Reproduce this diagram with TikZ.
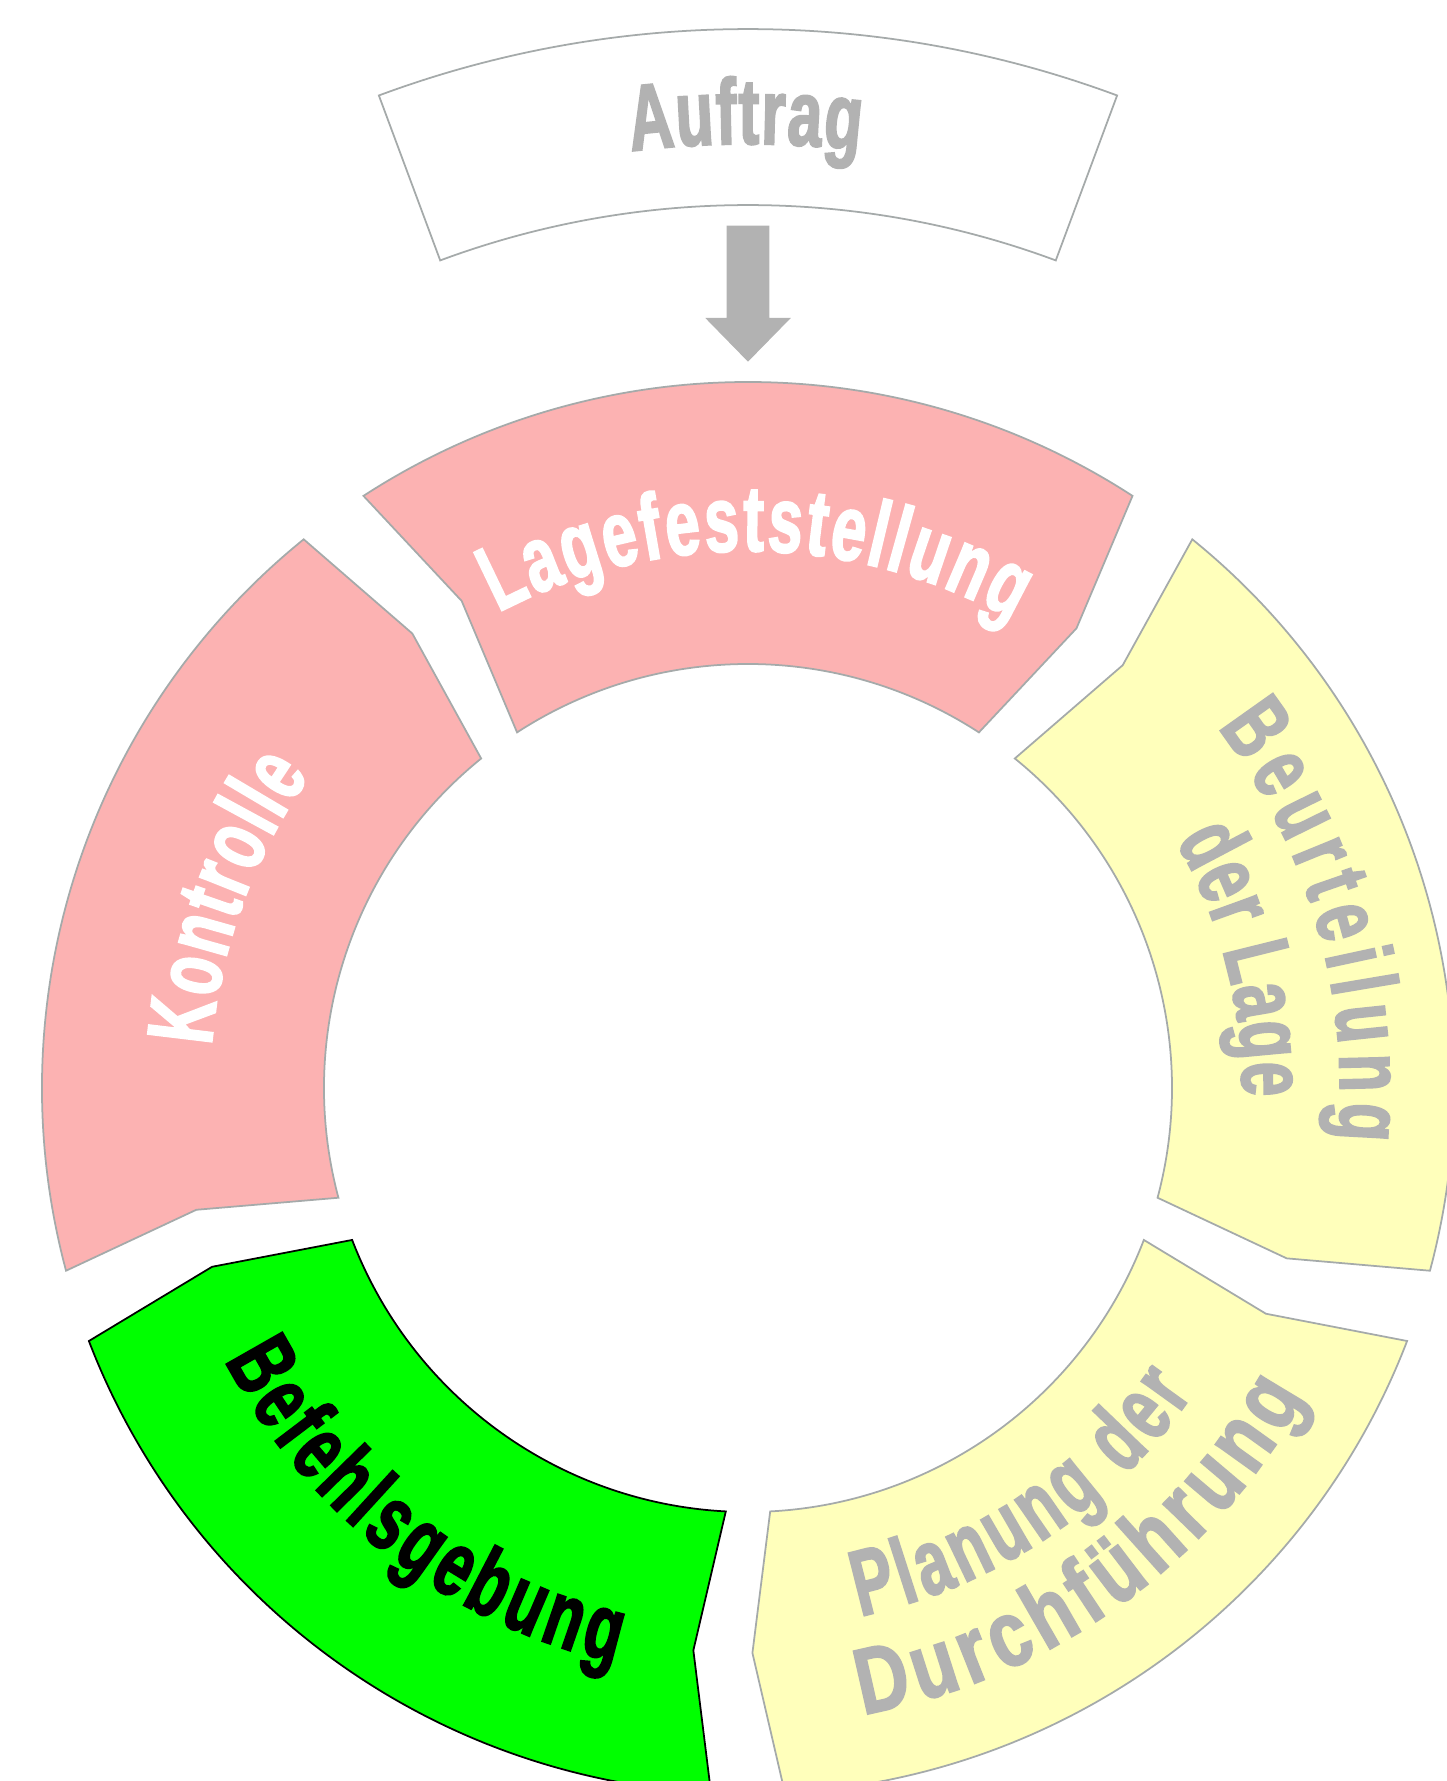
\documentclass[tikz,border=0pt]{standalone}
\usepackage{fontspec}
\usepackage{tikz}
\usetikzlibrary{decorations.text}
\newfontfamily\wordartfam[FakeStretch=0.66,FakeBold=2]{Liberation Sans}
\newfontfamily\wordartwide[FakeStretch=0.78,FakeBold=2]{Liberation Sans}
\newcommand{\wafont}{\wordartfam\bfseries\fontsize{26.6pt}{30pt}\selectfont}
\newcommand{\wawide}{\wordartwide\bfseries\fontsize{26.6pt}{30pt}\selectfont}
\definecolor{partpink}{RGB}{252,178,178}
\definecolor{partyellow}{RGB}{255,255,187}
\definecolor{partgreen}{RGB}{0,255,0}
\definecolor{textgray}{RGB}{178,178,178}
\definecolor{edgegray}{RGB}{165,170,170}
\tikzstyle{pinkpart} = [fill=partpink, draw=edgegray, line width=0.5pt]
\tikzstyle{yellowpart} = [fill=partyellow, draw=edgegray, line width=0.5pt]
\tikzstyle{greenpart} = [fill=partgreen, draw=black, line width=0.5pt]
\tikzstyle{auftragbox} = [fill=white, draw=edgegray, line width=0.5pt]
\tikzstyle{pfeil} = [fill=textgray]
\tikzstyle{wordart} = [decorate, decoration={text along path, text align=fit to path}]
\newcommand{\ringpart}[2]{\draw[#2] (#1+33:7.06) arc[start angle=#1+33, end angle=#1-33, radius=7.06] -- (#1-35.55:5.65) -- (#1-33:4.24) arc[start angle=#1-33, end angle=#1+33, radius=4.24] -- (#1+30.45:5.65) -- cycle;}

\begin{document}
\begin{tikzpicture}
\useasboundingbox (-7.48,-6.93) rectangle (6.99,10.88);

\draw[auftragbox] (69.6:10.59) arc[start angle=69.6, end angle=110.4, radius=10.59] -- (110.4:8.83) arc[start angle=110.4, end angle=69.6, radius=8.83] -- cycle;
\fill[pfeil] (-0.213,8.623) -- (0.215,8.623) -- (0.215,7.70) -- (0.428,7.70) -- (0,7.263) -- (-0.427,7.70) -- (-0.213,7.70) -- cycle;

\ringpart{90}{pinkpart}
\ringpart{18}{yellowpart}
\ringpart{-54}{yellowpart}
\ringpart{-126}{greenpart}
\ringpart{162}{pinkpart}

\path[wordart, decoration={text={|\wafont\color{textgray}|Auftrag}}] (97.1:9.44) arc[start angle=97.1, end angle=83.2, radius=9.44];
\path[wordart, decoration={text={|\wafont\color{white}|Lagefeststellung}}] (117.7:5.37) arc[start angle=117.7, end angle=60.5, radius=5.37];
\path[wordart, decoration={text={|\wafont\color{textgray}|Beurteilung}}] (37.5:5.92) arc[start angle=37.5, end angle=-5, radius=5.92];
\path[wordart, decoration={text={|\wafont\color{textgray}|der Lage}}] (30:4.94) arc[start angle=30, end angle=-1, radius=4.94];
\path[wordart, decoration={text={|\wafont\color{textgray}|Planung der}}] (-78:5.40) arc[start angle=-78, end angle=-34.5, radius=5.40];
\path[wordart, decoration={text={|\wawide\color{textgray}|Durchführung}}] (-79.6:6.37) arc[start angle=-79.6, end angle=-29, radius=6.37];
\path[wordart, decoration={text={|\wafont\color{black}|Befehlsgebung}}] (-152.5:5.90) arc[start angle=-152.5, end angle=-103, radius=5.90];
\path[wordart, decoration={text={|\wafont\color{white}|Kontrolle}}] (175.5:5.38) arc[start angle=175.5, end angle=144.5, radius=5.38];
\end{tikzpicture}
\end{document}
